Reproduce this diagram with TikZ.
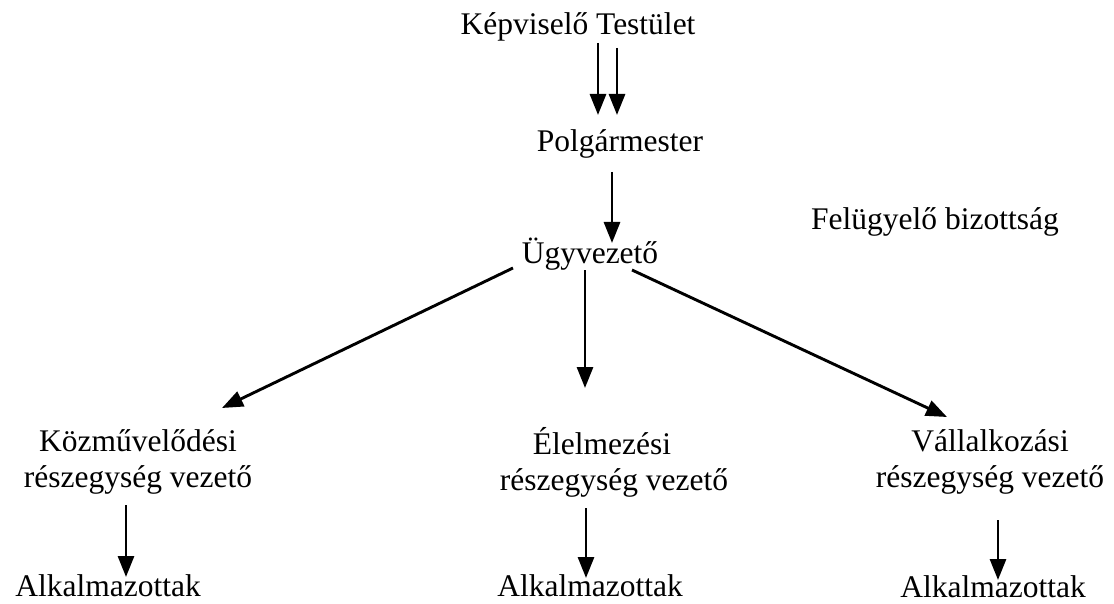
\documentclass[tikz,border=0pt]{standalone}
\usepackage{fontspec}
\setmainfont{Liberation Serif}
\usetikzlibrary{arrows.meta}
\begin{document}
\begin{tikzpicture}[x=1pt,y=-1pt,
  lbl/.style={font=\fontsize{31.5}{36}\selectfont, inner sep=0pt, anchor=base, align=center},
  arr/.style={line width=2.9pt, -{Triangle[width=16pt,length=21pt]}}]
\useasboundingbox (0,0) rectangle (1114,604);

\node[lbl] (kt) at (578,35) {Képviselő Testület};
\node[lbl] (pm) at (620,152) {Polgármester};
\node[lbl] (ugy) at (590,264) {Ügyvezető};
\node[lbl] (fb) at (935,230) {Felügyelő bizottság};
\node[lbl] (kozm) at (138,487) {Közművelődési\\részegység vezető};
\node[lbl] (elel) at (614,490) {Élelmezési\hspace*{24pt}\\részegység vezető};
\node[lbl] (vall) at (990,487) {Vállalkozási\\részegység vezető};
\node[lbl] (alk1) at (108,596) {Alkalmazottak};
\node[lbl] (alk2) at (590,596) {Alkalmazottak};
\node[lbl] (alk3) at (993,597) {Alkalmazottak};

% connector end points next to the named nodes
\coordinate (kt-a) at (598,43);  \coordinate (pm-a) at (598,115);
\coordinate (kt-b) at (617,48);  \coordinate (pm-b) at (617,115);
\coordinate (pm-s) at (612,172); \coordinate (ugy-n) at (612,243);
\coordinate (ugy-sw) at (513,268); \coordinate (kozm-n) at (222,408);
\coordinate (ugy-s) at (585,270);  \coordinate (elel-n) at (585,388);
\coordinate (ugy-se) at (632,270); \coordinate (vall-n) at (947,417);
\coordinate (kozm-s) at (126,505); \coordinate (alk1-n) at (126,577);
\coordinate (elel-s) at (586,508); \coordinate (alk2-n) at (586,578);
\coordinate (vall-s) at (998,520); \coordinate (alk3-n) at (998,580);

\draw[arr] (kt-a) -- (pm-a);
\draw[arr] (kt-b) -- (pm-b);
\draw[arr] (pm-s) -- (ugy-n);
\draw[arr] (ugy-sw) -- (kozm-n);
\draw[arr] (ugy-s) -- (elel-n);
\draw[arr] (ugy-se) -- (vall-n);
\draw[arr] (kozm-s) -- (alk1-n);
\draw[arr] (elel-s) -- (alk2-n);
\draw[arr] (vall-s) -- (alk3-n);
\end{tikzpicture}
\end{document}
